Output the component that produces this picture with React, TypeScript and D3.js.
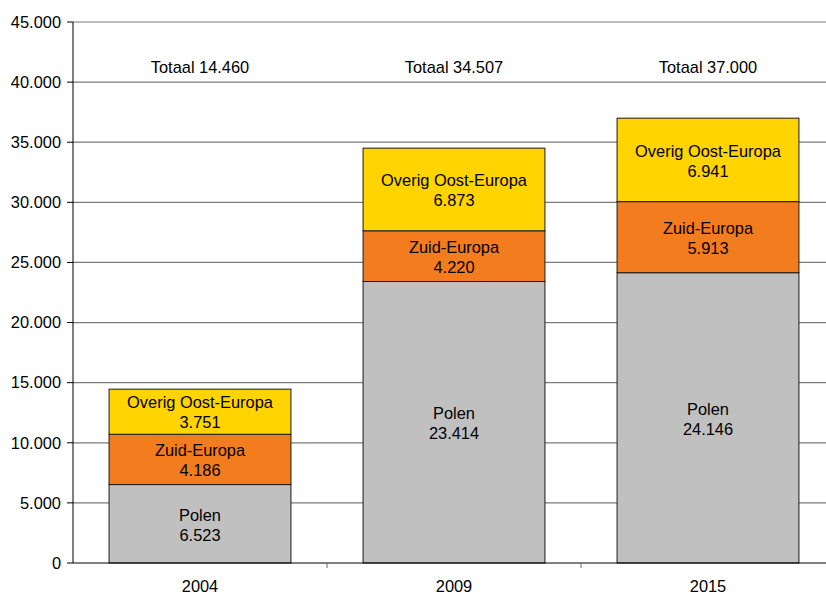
import { useEffect, useRef } from "react";
import * as d3 from "d3";

const years = ["2004", "2009", "2015"];
const polen = [6523, 23414, 24146];
const zuidEuropa = [4186, 4220, 5913];
const overigOost = [3751, 6873, 6941];
const totals = [14460, 34507, 37000];
const seriesNames = ["Polen", "Zuid-Europa", "Overig Oost-Europa"];
const seriesColors = ["#c0c0c0", "#f27c1e", "#ffd400"];
const yTicks = [0, 5000, 10000, 15000, 20000, 25000, 30000, 35000, 40000, 45000];

const nl = d3.formatLocale({ decimal: ",", thousands: ".", grouping: [3], currency: ["€", ""] });
const fmt = nl.format(",d");
const FONT = "Liberation Sans, Arial, sans-serif";
const FS = 16.4;

export default function App() {
  const svgRef = useRef<SVGSVGElement>(null);

  useEffect(() => {
    const width = 826;
    const height = 594;
    const margin = { left: 73, top: 22, bottom: 31 };
    const plotRight = 835;
    const svg = d3.select(svgRef.current);
    svg.selectAll("*").remove();

    const x = d3.scaleBand().domain(years).range([margin.left, plotRight]).padding(0);
    const y = d3.scaleLinear().domain([0, 45000]).range([height - margin.bottom, margin.top]);
    const barW = x.bandwidth() * 0.716;

    const rows = years.map((yr, i) => ({
      year: yr,
      Polen: polen[i],
      "Zuid-Europa": zuidEuropa[i],
      "Overig Oost-Europa": overigOost[i],
    }));
    const stack = d3.stack<any>().keys(seriesNames);
    const layers = stack(rows);

    // gridlines
    svg.append("g")
      .selectAll("line")
      .data(yTicks.filter(t => t > 0))
      .join("line")
      .attr("x1", margin.left)
      .attr("x2", width)
      .attr("y1", d => y(d))
      .attr("y2", d => y(d))
      .attr("stroke", "#7a7a7a")
      .attr("stroke-width", 1.2);

    // bars
    layers.forEach((layer, li) => {
      const g = svg.append("g");
      g.selectAll("rect")
        .data(layer)
        .join("rect")
        .attr("x", d => x(d.data.year)! + (x.bandwidth() - barW) / 2)
        .attr("width", barW)
        .attr("y", d => y(d[1]))
        .attr("height", d => y(d[0]) - y(d[1]))
        .attr("fill", seriesColors[li])
        .attr("stroke", "#1a1a1a")
        .attr("stroke-width", 1);

      const labels = g.selectAll("text")
        .data(layer)
        .join("text")
        .attr("x", d => x(d.data.year)! + x.bandwidth() / 2)
        .attr("y", d => (y(d[0]) + y(d[1])) / 2)
        .attr("text-anchor", "middle")
        .attr("font-family", FONT)
        .attr("font-size", FS)
        .attr("fill", "#000");
      labels.append("tspan")
        .attr("x", d => x(d.data.year)! + x.bandwidth() / 2)
        .attr("dy", "-0.2em")
        .text(seriesNames[li]);
      labels.append("tspan")
        .attr("x", d => x(d.data.year)! + x.bandwidth() / 2)
        .attr("dy", 20)
        .text(d => fmt(d[1] - d[0]));
    });

    // totals
    svg.append("g")
      .selectAll("text")
      .data(years)
      .join("text")
      .attr("x", d => x(d)! + x.bandwidth() / 2)
      .attr("y", y(41250))
      .attr("dy", "0.35em")
      .attr("text-anchor", "middle")
      .attr("font-family", FONT)
      .attr("font-size", FS)
      .attr("fill", "#000")
      .text((d, i) => `Totaal ${fmt(totals[i])}`);

    // y axis
    const yAxis = svg.append("g");
    yAxis.append("line")
      .attr("x1", margin.left).attr("x2", margin.left)
      .attr("y1", y(45000)).attr("y2", y(0))
      .attr("stroke", "#000");
    yAxis.selectAll("line.tick")
      .data(yTicks)
      .join("line")
      .attr("class", "tick")
      .attr("x1", margin.left - 6).attr("x2", margin.left)
      .attr("y1", d => y(d)).attr("y2", d => y(d))
      .attr("stroke", "#000");
    yAxis.selectAll("text")
      .data(yTicks)
      .join("text")
      .attr("x", margin.left - 12)
      .attr("y", d => y(d))
      .attr("dy", "0.35em")
      .attr("text-anchor", "end")
      .attr("font-family", FONT)
      .attr("font-size", FS)
      .attr("fill", "#000")
      .text(d => fmt(d));

    // x axis
    const xAxis = svg.append("g");
    xAxis.append("line")
      .attr("x1", margin.left).attr("x2", width)
      .attr("y1", y(0)).attr("y2", y(0))
      .attr("stroke", "#000");
    xAxis.selectAll("line.tick")
      .data(years)
      .join("line")
      .attr("class", "tick")
      .attr("x1", d => x(d)! + x.bandwidth())
      .attr("x2", d => x(d)! + x.bandwidth())
      .attr("y1", y(0)).attr("y2", y(0) + 5)
      .attr("stroke", "#666");
    xAxis.selectAll("text")
      .data(years)
      .join("text")
      .attr("x", d => x(d)! + x.bandwidth() / 2)
      .attr("y", y(0) + 29)
      .attr("text-anchor", "middle")
      .attr("font-family", FONT)
      .attr("font-size", FS)
      .attr("fill", "#000")
      .text(d => d);
  }, []);

  return (
    <svg
      ref={svgRef}
      width={826}
      height={594}
      style={{ position: "fixed", left: 0, top: 0, background: "#fff" }}
    />
  );
}
